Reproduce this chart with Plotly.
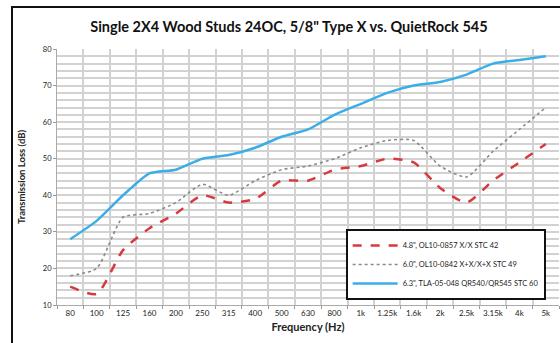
import plotly.graph_objects as go

freqs = ["80", "100", "125", "160", "200", "250", "315", "400", "500", "630",
         "800", "1k", "1.25k", "1.6k", "2k", "2.5k", "3.15k", "4k", "5k"]
stc42 = [15, 13, 25, 31, 35, 40, 38, 39, 44, 44, 47, 48, 50, 49, 42, 38, 44, 49, 54]
stc49 = [18, 20, 34, 35, 38, 43, 40, 44, 47, 48, 50, 53, 55, 55, 48, 45, 52, 58, 64]
stc60 = [28, 33, 40, 46, 47, 50, 51, 53, 56, 58, 62, 65, 68, 70, 71, 73, 76, 77, 78]
names = ['4.8", OL10-0857 X/X STC 42',
         '6.0", OL10-0842 X+X/X+X STC 49',
         '6.3", TLA-05-048 QR540/QR545 STC 60']

fig = go.Figure()
fig.add_trace(go.Scatter(x=freqs, y=stc42, name=names[0], mode="lines",
                         line=dict(color="#d63a3f", width=2.5, dash="dash", shape="spline", smoothing=0.6)))
fig.add_trace(go.Scatter(x=freqs, y=stc49, name=names[1], mode="lines",
                         line=dict(color="#8a8a8a", width=1.6, dash="dot", shape="spline", smoothing=0.6)))
fig.add_trace(go.Scatter(x=freqs, y=stc60, name=names[2], mode="lines",
                         line=dict(color="#3aaee6", width=2.5, shape="spline", smoothing=0.6)))

grid = "#d2d2d2"
fig.update_layout(
    width=560, height=343,
    margin=dict(l=57, r=1, t=49, b=38),
    paper_bgcolor="white", plot_bgcolor="white",
    font=dict(family="Lato, Open Sans, sans-serif", color="#222"),
    title=dict(text="<b>Single 2X4 Wood Studs 24OC, 5/8\" Type X vs. QuietRock 545</b>",
               x=0.516, xanchor="center", y=1 - 27/343, yanchor="middle",
               font=dict(size=14.5, color="#111")),
    xaxis=dict(type="category", tickson="boundaries", showgrid=True, gridcolor=grid, gridwidth=1.5,
               ticks="outside", ticklen=3, tickcolor="#999", showline=True, linecolor="#aaa",
               tickangle=0, automargin=False,
               tickfont=dict(size=8), title=dict(text="<b>Frequency (Hz)</b>", font=dict(size=11), standoff=6),
               range=[-0.5, 18.5]),
    yaxis=dict(range=[10, 80], dtick=10, showgrid=True, gridcolor=grid, gridwidth=1.5,
               minor=dict(dtick=2, showgrid=True, gridcolor=grid, gridwidth=1.5),
               ticks="outside", ticklen=3, tickcolor="#999", showline=True, linecolor="#aaa",
               automargin=False,
               tickfont=dict(size=7.5), title=dict(text="<b>Transmission Loss (dB)</b>", font=dict(size=9.5), standoff=15),
               zeroline=False),
    legend=dict(x=0.575, y=0.297, xanchor="left", yanchor="top", bgcolor="white",
                bordercolor="#111", borderwidth=2, font=dict(size=7.5), tracegroupgap=0,
                itemwidth=45),
    showlegend=True,
)
fig.add_shape(type="rect", xref="paper", yref="paper",
              x0=-45/502, x1=1.05, y0=-0.3, y1=1 + 42/256,
              line=dict(color="#111", width=2), fillcolor="rgba(0,0,0,0)", layer="above")
fig.write_html("out.html", config={"displayModeBar": False},
               post_script="document.body.style.margin='0px';")
